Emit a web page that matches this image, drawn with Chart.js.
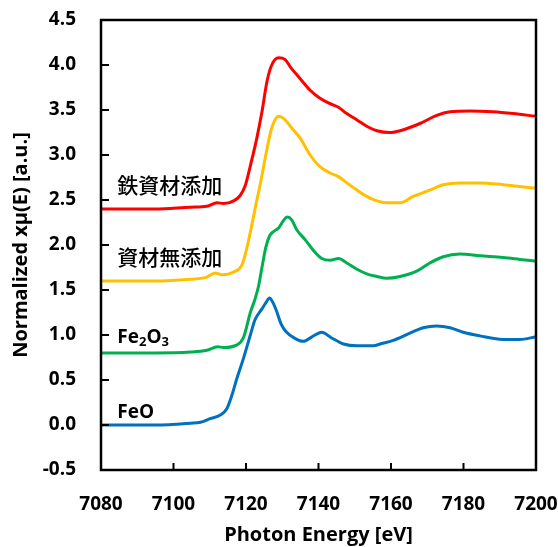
<!DOCTYPE html>
<html>
<head>
<meta charset="utf-8">
<script src="https://cdn.jsdelivr.net/npm/chart.js@4.4.1/dist/chart.umd.min.js"></script>
<style>
  html, body { margin: 0; padding: 0; background: #fff; }
  #wrap { width: 558px; height: 547px; }
</style>
</head>
<body>
<div id="wrap"><canvas id="c" width="558" height="547"></canvas></div>
<script>
// ---- Data ----
const seriesNames = ['鉄資材添加', '資材無添加', 'Fe2O3', 'FeO'];
const seriesColors = ['#FF0000', '#FFC000', '#00B050', '#0070C0'];

const redE = [7080, 7095, 7104.7, 7109.2, 7112.0, 7113.8, 7116.6, 7118.4, 7119.8, 7121.2, 7123.0, 7124.4, 7125.8, 7127.1, 7129.0, 7130.8, 7132.2, 7134.9, 7137.7, 7140.4, 7143.2, 7145.5, 7147.8, 7150.6, 7153.3, 7156.1, 7159.7, 7162.5, 7168.0, 7172.6, 7176.3, 7181.8, 7188.2, 7193.7, 7200];
const redV = [2.40, 2.40, 2.42, 2.43, 2.47, 2.46, 2.49, 2.55, 2.66, 2.88, 3.19, 3.48, 3.82, 4.00, 4.08, 4.06, 3.98, 3.85, 3.72, 3.63, 3.57, 3.53, 3.46, 3.39, 3.32, 3.27, 3.25, 3.27, 3.35, 3.44, 3.48, 3.49, 3.48, 3.46, 3.43];

const yellowE = [7080, 7095, 7104.7, 7109.0, 7111.5, 7113.4, 7116.6, 7118.9, 7120.2, 7121.6, 7123.0, 7123.9, 7125.8, 7127.1, 7129.0, 7130.8, 7132.6, 7134.9, 7137.7, 7140.4, 7143.2, 7145.5, 7147.8, 7150.6, 7153.3, 7156.1, 7158.8, 7162.5, 7166.1, 7170.7, 7174.4, 7179.0, 7184.5, 7190.9, 7195.5, 7200];
const yellowV = [1.60, 1.60, 1.62, 1.64, 1.69, 1.67, 1.70, 1.78, 1.96, 2.22, 2.50, 2.67, 3.07, 3.30, 3.43, 3.39, 3.30, 3.19, 3.00, 2.87, 2.80, 2.76, 2.69, 2.61, 2.54, 2.49, 2.47, 2.47, 2.54, 2.61, 2.67, 2.69, 2.69, 2.67, 2.65, 2.63];

const greenE = [7080, 7095, 7104.7, 7109.2, 7112.2, 7113.8, 7117.5, 7119.3, 7121.2, 7122.5, 7123.5, 7124.4, 7125.5, 7126.5, 7127.6, 7129.0, 7130.3, 7131.4, 7132.6, 7134.0, 7136.3, 7138.6, 7140.9, 7143.2, 7145.5, 7147.8, 7150.6, 7153.3, 7156.1, 7158.8, 7162.5, 7167.1, 7170.7, 7174.4, 7179.0, 7184.5, 7190.9, 7195.5, 7200];
const greenV = [0.80, 0.80, 0.81, 0.83, 0.87, 0.86, 0.89, 0.97, 1.25, 1.40, 1.55, 1.75, 1.98, 2.10, 2.15, 2.19, 2.27, 2.31, 2.28, 2.17, 2.06, 1.94, 1.85, 1.83, 1.85, 1.80, 1.73, 1.68, 1.65, 1.63, 1.65, 1.71, 1.80, 1.87, 1.90, 1.88, 1.86, 1.84, 1.82];

const blueE = [7080, 7095, 7104.7, 7107.4, 7110.1, 7112.9, 7114.7, 7116.1, 7117.5, 7119.3, 7121.2, 7122.5, 7124.4, 7125.5, 7126.5, 7127.3, 7128.3, 7129.7, 7131.0, 7133.6, 7135.8, 7138.2, 7140.9, 7143.5, 7146.9, 7150.6, 7155.1, 7157.0, 7160.6, 7165.2, 7168.9, 7172.6, 7176.3, 7179.9, 7184.5, 7190.9, 7195.5, 7200];
const blueV = [0.00, 0.00, 0.02, 0.03, 0.07, 0.11, 0.18, 0.33, 0.52, 0.74, 1.00, 1.17, 1.29, 1.36, 1.41, 1.37, 1.28, 1.12, 1.04, 0.96, 0.93, 0.98, 1.03, 0.97, 0.90, 0.88, 0.88, 0.90, 0.94, 1.02, 1.08, 1.10, 1.08, 1.03, 0.99, 0.95, 0.95, 0.98];

const xTickValues = [7080, 7100, 7120, 7140, 7160, 7180, 7200];
const yTickValues = [-0.5, 0.0, 0.5, 1.0, 1.5, 2.0, 2.5, 3.0, 3.5, 4.0, 4.5];

const allE = [redE, yellowE, greenE, blueE];
const allV = [redV, yellowV, greenV, blueV];

const datasets = seriesNames.map((name, i) => ({
  label: name,
  data: allE[i].map((e, j) => ({ x: e, y: allV[i][j] })),
  borderColor: seriesColors[i],
  borderWidth: 3,
  pointRadius: 0,
  fill: false,
  cubicInterpolationMode: 'monotone'
}));

const FONT = '"Open Sans", "Noto Sans", sans-serif';

const overlay = {
  id: 'overlay',
  afterDatasetsDraw(chart) {
    const { ctx, chartArea: a, scales: { x, y } } = chart;
    ctx.save();
    ctx.strokeStyle = '#000';
    ctx.lineWidth = 2;
    x.ticks.forEach(t => {
      const px = x.getPixelForValue(t.value);
      ctx.beginPath(); ctx.moveTo(px, a.bottom); ctx.lineTo(px, a.bottom - 7); ctx.stroke();
    });
    y.ticks.forEach(t => {
      const py = y.getPixelForValue(t.value);
      ctx.beginPath(); ctx.moveTo(a.left, py); ctx.lineTo(a.left + 8, py); ctx.stroke();
    });
    ctx.lineWidth = 2.5;
    ctx.strokeRect(a.left, a.top, a.right - a.left, a.bottom - a.top);

    // series labels
    const lx = x.getPixelForValue(7084.5);
    const ly = [2.67, 1.87, 0.97, 0.14].map(v => y.getPixelForValue(v));
    ctx.fillStyle = '#000';
    ctx.textBaseline = 'middle';
    ctx.textAlign = 'left';
    ctx.font = '500 21px "Noto Sans CJK JP", sans-serif';
    ctx.fillText(seriesNames[0], lx, ly[0]);
    ctx.fillText(seriesNames[1], lx, ly[1]);
    // Fe2O3 with subscripts
    const big = 'bold 19px ' + FONT, small = 'bold 13px ' + FONT;
    let cx = lx;
    const parts = [['Fe', big, 0], ['2', small, 5], ['O', big, 0], ['3', small, 5]];
    parts.forEach(([s, f, dy]) => {
      ctx.font = f; ctx.fillText(s, cx, ly[2] + dy); cx += ctx.measureText(s).width;
    });
    ctx.font = big;
    ctx.fillText(seriesNames[3], lx, ly[3]);
    ctx.restore();
  }
};

new Chart(document.getElementById('c'), {
  type: 'line',
  data: { datasets },
  options: {
    responsive: false,
    animation: false,
    devicePixelRatio: 1,
    layout: { padding: { top: 20, right: 22, left: 0, bottom: 0 } },
    plugins: { legend: { display: false }, tooltip: { enabled: false } },
    scales: {
      x: {
        type: 'linear',
        min: 7080, max: 7200,
        afterBuildTicks: s => { s.ticks = xTickValues.map(v => ({ value: v })); },
        afterFit: s => { s.height = 77; s.paddingLeft = 0; s.paddingRight = 0; },
        grid: { display: false, drawTicks: false },
        border: { display: false },
        ticks: { color: '#000', font: { family: FONT, size: 19, weight: 'bold' }, padding: 23, maxRotation: 0, callback: v => String(v) },
        title: { display: true, text: 'Photon Energy [eV]', color: '#000', font: { family: FONT, size: 20, weight: 'bold' }, padding: { top: 0, bottom: 0 } }
      },
      y: {
        type: 'linear',
        min: -0.5, max: 4.5,
        afterBuildTicks: s => { s.ticks = yTickValues.map(v => ({ value: v })); },
        afterFit: s => { s.width = 101; s.paddingTop = 0; s.paddingBottom = 0; },
        grid: { display: false, drawTicks: false },
        border: { display: false },
        ticks: { color: '#000', font: { family: FONT, size: 19, weight: 'bold' }, padding: 25, callback: v => Number(v).toFixed(1) },
        title: { display: true, text: 'Normalized xμ(E) [a.u.]', color: '#000', font: { family: FONT, size: 20, weight: 'bold' }, padding: { top: 9, bottom: 0 } }
      }
    }
  },
  plugins: [overlay]
});
</script>
</body>
</html>
